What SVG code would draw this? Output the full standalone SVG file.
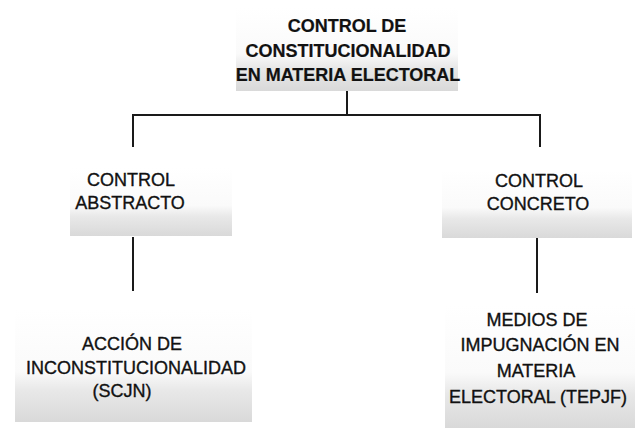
<svg xmlns="http://www.w3.org/2000/svg" width="637" height="434" viewBox="0 0 637 434">
<defs>
<linearGradient id="shade" x1="0" y1="0" x2="0" y2="1">
<stop offset="0" stop-color="#ffffff"/>
<stop offset="0.55" stop-color="#fafafa"/>
<stop offset="0.72" stop-color="#e8e8e8"/>
<stop offset="1" stop-color="#d9d9d9"/>
</linearGradient>
</defs>
<style>
.box{fill:url(#shade);stroke:none}
.t{font-family:"Liberation Sans",Arial,sans-serif;font-size:18px;fill:#111;stroke:#111;stroke-width:0.35;text-anchor:middle}
.title{font-weight:bold;stroke-width:0.2}
.conn{fill:none;stroke:#1a1a1a;stroke-width:2;stroke-linecap:square}
</style>
<rect width="637" height="434" fill="#ffffff"/>
<g id="connectors">
<path class="conn" d="M347 92 V115"/>
<path class="conn" d="M133 115 H540"/>
<path class="conn" d="M133 115 V146"/>
<path class="conn" d="M540 115 V146"/>
<path class="conn" d="M133 238 V290"/>
<path class="conn" d="M537 239 V292"/>
</g>
<g id="node-root">
<rect class="box" x="236" y="8" width="222" height="83"/>
<text class="t title" x="347" y="32">CONTROL DE</text>
<text class="t title" x="348" y="57">CONSTITUCIONALIDAD</text>
<text class="t title" x="348" y="81">EN MATERIA ELECTORAL</text>
</g>
<g id="node-abstracto">
<rect class="box" x="70" y="168" width="162" height="68"/>
<text class="t" x="131" y="186">CONTROL</text>
<text class="t" x="130" y="209">ABSTRACTO</text>
</g>
<g id="node-concreto">
<rect class="box" x="442" y="170" width="190" height="68"/>
<text class="t" x="539" y="187">CONTROL</text>
<text class="t" x="538" y="210">CONCRETO</text>
</g>
<g id="node-accion">
<rect class="box" x="15" y="310" width="237" height="112"/>
<text class="t" x="132" y="350">ACCIÓN DE</text>
<text class="t" x="136" y="374">INCONSTITUCIONALIDAD</text>
<text class="t" x="122" y="397">(SCJN)</text>
</g>
<g id="node-medios">
<rect class="box" x="445" y="305" width="190" height="123"/>
<text class="t" x="537" y="326">MEDIOS DE</text>
<text class="t" x="540" y="351">IMPUGNACIÓN EN</text>
<text class="t" x="536" y="377">MATERIA</text>
<text class="t" x="538" y="403">ELECTORAL (TEPJF)</text>
</g>
</svg>
